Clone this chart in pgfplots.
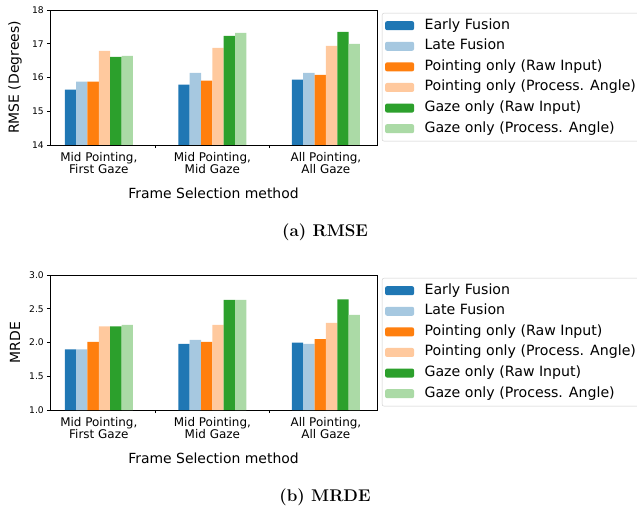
\documentclass[border=0pt]{standalone}
\usepackage{fontspec}
\usepackage{pgfplots}
\pgfplotsset{compat=1.18}
\newfontfamily\dejavu{DejaVu Sans}
\definecolor{c1}{HTML}{1F77B4}
\definecolor{c2}{HTML}{A6C8E0}
\definecolor{c3}{HTML}{FF7F0E}
\definecolor{c4}{HTML}{FFC99E}
\definecolor{c5}{HTML}{2CA02C}
\definecolor{c6}{HTML}{ABDAA6}
\definecolor{lgray}{HTML}{CCCCCC}

\pgfplotsset{
  mybars/.style={
    scale only axis, width=327bp, height=135bp,
    xmin=-0.43, xmax=2.45,
    ybar=0pt, bar width=0.1,
    xtick={0,1,2},
    xticklabels={{Mid Pointing,\\First Gaze},{Mid Pointing,\\Mid Gaze},{All Pointing,\\All Gaze}},
    major x tick style={draw=none},
    minor xtick={0.5,1.5},
    tick align=outside,
    tick pos=left,
    major tick length=3bp, minor tick length=3bp,
    tick style={black, line width=0.6bp},
    axis line style={line width=0.8bp},
    /pgf/number format/assume math mode=true,
    xticklabel style={align=center, font=\dejavu\fontsize{12}{12}\selectfont, inner sep=0pt, yshift=-4bp},
    yticklabel style={font=\dejavu\fontsize{9.2}{11}\selectfont, inner sep=0pt, xshift=-3bp},
    every axis x label/.style={at={(rel axis cs:0.5,0)}, anchor=center, yshift=-48bp, font=\dejavu\fontsize{14}{16}\selectfont},
    every axis y label/.style={at={(rel axis cs:0,0.5)}, rotate=90, anchor=center, yshift=35bp, font=\dejavu\fontsize{14}{16}\selectfont},
    xlabel={Frame Selection method},
    legend image code/.code={\fill[#1,draw=none] (0bp,-4.5bp) rectangle (29bp,4.5bp);},
    legend cell align=left,
    legend style={at={(rel axis cs:1.015,0.978)}, anchor=north west,
      draw=lgray, rounded corners=2bp, fill=white,
      font=\dejavu\fontsize{14.2}{16}\selectfont,
      inner xsep=3bp, inner ysep=3.5bp,
      nodes={inner sep=2bp, text height=10.5bp, text depth=3.5bp},
      row sep=2.6bp, column sep=8.5bp},
  }
}

\begin{document}
\begin{tikzpicture}
\useasboundingbox (0,0) rectangle (637bp,-506bp);
\begin{axis}[mybars, at={(50bp,-10bp)}, anchor=north west,
  ymin=14, ymax=18, ytick={14,15,16,17,18},
  ylabel={RMSE (Degrees)}]
\addplot[fill=c1, draw=none] coordinates {(0,15.64) (1,15.79) (2,15.94)};
\addlegendentry{Early Fusion}
\addplot[fill=c2, draw=none] coordinates {(0,15.88) (1,16.14) (2,16.14)};
\addlegendentry{Late Fusion}
\addplot[fill=c3, draw=none] coordinates {(0,15.88) (1,15.91) (2,16.08)};
\addlegendentry{Pointing only (Raw Input)}
\addplot[fill=c4, draw=none] coordinates {(0,16.79) (1,16.88) (2,16.94)};
\addlegendentry{Pointing only (Process. Angle)}
\addplot[fill=c5, draw=none] coordinates {(0,16.61) (1,17.23) (2,17.35)};
\addlegendentry{Gaze only (Raw Input)}
\addplot[fill=c6, draw=none] coordinates {(0,16.64) (1,17.32) (2,17.00)};
\addlegendentry{Gaze only (Process. Angle)}
\end{axis}
\node[font=\bfseries\fontsize{17}{17}\selectfont] at (325bp,-232bp) {(a) RMSE};

\begin{axis}[mybars, at={(50bp,-275bp)}, anchor=north west,
  ymin=1, ymax=3, ytick={1,1.5,2,2.5,3},
  yticklabel style={/pgf/number format/.cd, fixed, fixed zerofill, precision=1},
  ylabel={MRDE}]
\addplot[fill=c1, draw=none] coordinates {(0,1.90) (1,1.98) (2,2.00)};
\addlegendentry{Early Fusion}
\addplot[fill=c2, draw=none] coordinates {(0,1.90) (1,2.04) (2,1.98)};
\addlegendentry{Late Fusion}
\addplot[fill=c3, draw=none] coordinates {(0,2.01) (1,2.01) (2,2.05)};
\addlegendentry{Pointing only (Raw Input)}
\addplot[fill=c4, draw=none] coordinates {(0,2.24) (1,2.26) (2,2.29)};
\addlegendentry{Pointing only (Process. Angle)}
\addplot[fill=c5, draw=none] coordinates {(0,2.24) (1,2.63) (2,2.64)};
\addlegendentry{Gaze only (Raw Input)}
\addplot[fill=c6, draw=none] coordinates {(0,2.26) (1,2.63) (2,2.41)};
\addlegendentry{Gaze only (Process. Angle)}
\end{axis}
\node[font=\bfseries\fontsize{17}{17}\selectfont] at (325bp,-497bp) {(b) MRDE};
\end{tikzpicture}
\end{document}
